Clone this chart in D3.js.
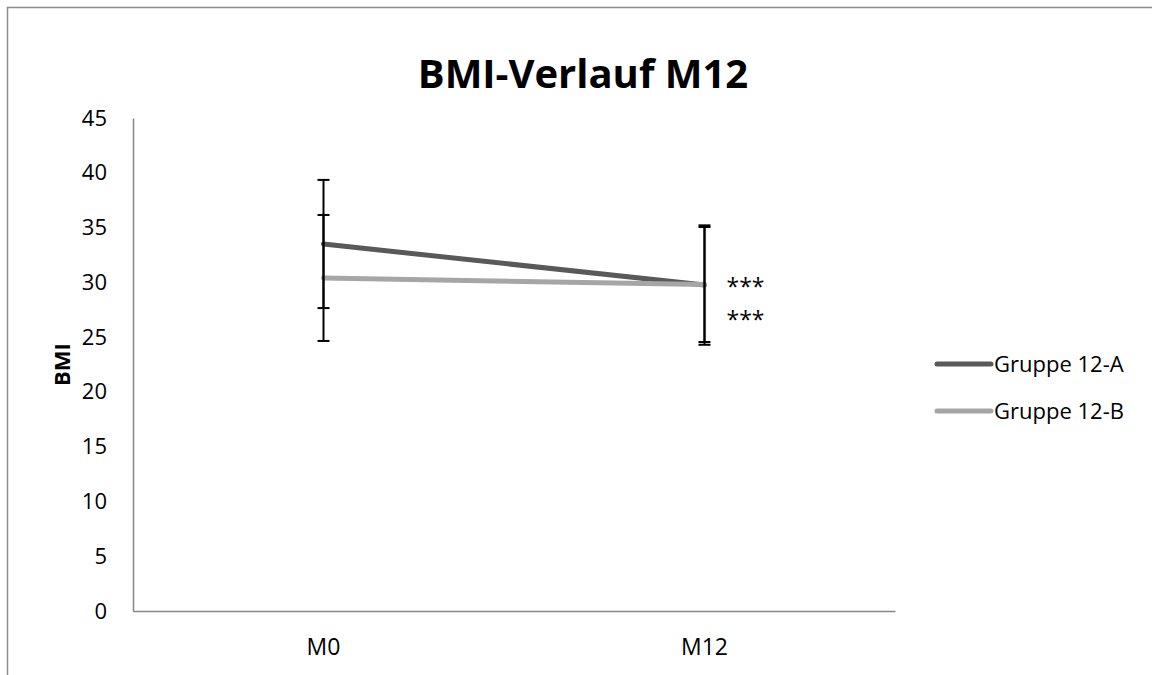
<!DOCTYPE html>
<html lang="de">
<head>
<meta charset="UTF-8">
<title>BMI-Verlauf M12</title>
<script src="https://d3js.org/d3.v7.min.js"></script>
<style>
  body { margin: 0; background: white; }
  svg { font-family: "Open Sans", "Noto Sans", sans-serif; }
</style>
</head>
<body>
<svg width="1152" height="675"></svg>
<script>
// data
var timepoints = ["M0", "M12"];
var seriesNames = ["Gruppe 12-A", "Gruppe 12-B"];
var meansA = [33.5, 29.75];
var meansB = [30.4, 29.8];
var sdA = [5.85, 5.45];
var sdB = [5.75, 5.25];
var yTicks = [0, 5, 10, 15, 20, 25, 30, 35, 40, 45];
var marks = ["***", "***"];

var seriesColors = ["#595959", "#a6a6a6"];

var svg = d3.select("svg");

// outer chart border
svg.append("rect")
    .attr("x", 7.5).attr("y", 7.5)
    .attr("width", 1200).attr("height", 700)
    .attr("fill", "white")
    .attr("stroke", "#8c8c8c")
    .attr("stroke-width", 1.5);

var plotLeft = 133, plotRight = 895, plotTop = 118, plotBottom = 611;

var x = d3.scaleBand().domain(timepoints).range([plotLeft, plotRight]);
var y = d3.scaleLinear().domain([0, 45]).range([plotBottom, plotTop]);

// title
svg.append("text")
    .attr("x", 583).attr("y", 88)
    .attr("text-anchor", "middle")
    .attr("font-size", "40px")
    .attr("font-weight", "bold")
    .text("BMI-Verlauf M12");

// y axis
var yAxis = svg.append("g")
    .attr("transform", "translate(" + plotLeft + ",0)")
    .call(d3.axisLeft(y).tickValues(yTicks).tickSize(0).tickPadding(26));
yAxis.select(".domain").attr("stroke", "#868686").attr("stroke-width", 1.5);
yAxis.selectAll("text").attr("font-size", "22px").attr("fill", "#000")
    .attr("font-family", "'Open Sans', sans-serif");

// x axis
var xAxis = svg.append("g")
    .attr("transform", "translate(0," + plotBottom + ")")
    .call(d3.axisBottom(x).tickSize(0).tickPadding(28));
xAxis.select(".domain").attr("stroke", "#868686").attr("stroke-width", 1.5);
xAxis.selectAll("text").attr("font-size", "23px").attr("fill", "#000")
    .attr("font-family", "'Open Sans', sans-serif");

// y label
svg.append("text")
    .attr("transform", "translate(70," + y(22.5) + ") rotate(-90)")
    .attr("text-anchor", "middle")
    .attr("font-size", "22px")
    .attr("font-weight", "bold")
    .text("BMI");

var cx = function(t) { return x(t) + x.bandwidth() / 2; };

var series = [
    { name: seriesNames[0], means: meansA, sd: sdA, color: seriesColors[0] },
    { name: seriesNames[1], means: meansB, sd: sdB, color: seriesColors[1] }
];

var line = d3.line()
    .x(function(d, i) { return cx(timepoints[i]); })
    .y(function(d) { return y(d); });

series.forEach(function(s) {
    svg.append("path")
        .datum(s.means)
        .attr("d", line)
        .attr("fill", "none")
        .attr("stroke", s.color)
        .attr("stroke-width", 5)
        .attr("stroke-linecap", "round");
});

// error bars
series.forEach(function(s) {
    s.means.forEach(function(m, i) {
        var xc = cx(timepoints[i]);
        var g = svg.append("g").attr("stroke", "#000").attr("stroke-width", 2);
        g.append("line")
            .attr("x1", xc).attr("x2", xc)
            .attr("y1", y(m - s.sd[i])).attr("y2", y(m + s.sd[i]));
        [m - s.sd[i], m + s.sd[i]].forEach(function(v) {
            g.append("line")
                .attr("x1", xc - 6).attr("x2", xc + 6)
                .attr("y1", y(v)).attr("y2", y(v));
        });
    });
});

// significance marks
marks.forEach(function(mk, i) {
    svg.append("text")
        .attr("x", cx("M12") + 22)
        .attr("y", 295 + i * 33)
        .attr("font-size", "23px")
        .text(mk);
});

// legend
var legend = svg.append("g").attr("transform", "translate(935,364)");
series.forEach(function(s, i) {
    var row = legend.append("g").attr("transform", "translate(0," + i * 47 + ")");
    row.append("line")
        .attr("x1", 2).attr("x2", 56)
        .attr("stroke", s.color)
        .attr("stroke-width", 5)
        .attr("stroke-linecap", "round");
    row.append("text")
        .attr("x", 59).attr("y", 8)
        .attr("font-size", "22px")
        .text(s.name);
});
</script>
</body>
</html>
